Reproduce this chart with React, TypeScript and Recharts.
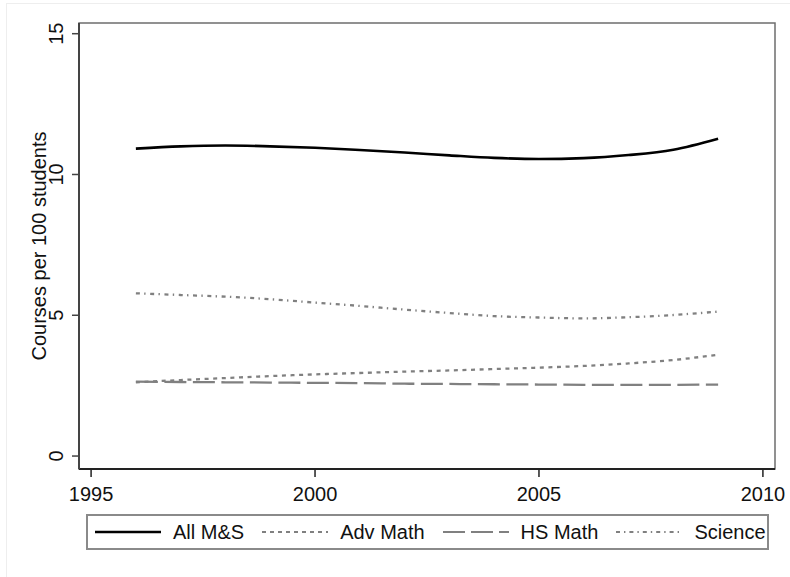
import React from 'react';
import { LineChart, Line, XAxis, YAxis, ReferenceArea, Label } from 'recharts';

const years = [1996, 1997, 1998, 1999, 2000, 2001, 2002, 2003, 2004, 2005, 2006, 2007, 2008, 2009];
const allMS = [10.92, 11.0, 11.03, 11.0, 10.95, 10.87, 10.78, 10.68, 10.59, 10.55, 10.58, 10.69, 10.88, 11.27];
const advMath = [2.62, 2.7, 2.77, 2.84, 2.9, 2.95, 3.0, 3.04, 3.09, 3.14, 3.2, 3.29, 3.41, 3.6];
const hsMath = [2.64, 2.63, 2.62, 2.61, 2.6, 2.59, 2.57, 2.56, 2.55, 2.54, 2.53, 2.53, 2.53, 2.54];
const science = [5.78, 5.72, 5.66, 5.57, 5.45, 5.33, 5.2, 5.08, 4.97, 4.92, 4.89, 4.93, 5.01, 5.13];

const xTicks = [1995, 2000, 2005, 2010];
const yTicks = [0, 5, 10, 15];

const data = years.map((year, i) => ({
  year,
  allMS: allMS[i],
  advMath: advMath[i],
  hsMath: hsMath[i],
  science: science[i],
}));

const FONT = '"Liberation Sans", Arial, Helvetica, sans-serif';
const FS = 20;
const X_DOMAIN: [number, number] = [1994.73, 2010.27];
const Y_DOMAIN: [number, number] = [-0.46, 15.38];

const series = [
  { key: 'allMS', name: 'All M&S', color: '#000000', dash: undefined, legendDash: undefined },
  { key: 'advMath', name: 'Adv Math', color: '#808080', dash: '4 4.6', legendDash: '4 4' },
  { key: 'hsMath', name: 'HS Math', color: '#808080', dash: '22 6.5', legendDash: '22 6' },
  { key: 'science', name: 'Science', color: '#808080', dash: '4 4.3 1.4 4.6', legendDash: '4 4 1.4 4' },
];

const YTick = (props: any) => {
  const { x, y, payload } = props;
  const bx = x - 7;
  return (
    <text
      x={bx}
      y={y}
      transform={`rotate(-90 ${bx} ${y})`}
      textAnchor="middle"
      fontSize={FS}
      fontFamily={FONT}
      fill="#111"
    >
      {payload.value}
    </text>
  );
};

const YTitle = (props: any) => {
  const { viewBox } = props;
  const cx = viewBox.x + 46;
  const cy = viewBox.y + viewBox.height / 2;
  return (
    <text
      x={cx}
      y={cy}
      transform={`rotate(-90 ${cx} ${cy})`}
      textAnchor="middle"
      fontSize={FS}
      fontFamily={FONT}
      fill="#111"
    >
      Courses per 100 students
    </text>
  );
};

const LegendBox = () => (
  <div
    style={{
      position: 'absolute',
      left: 86,
      top: 514,
      width: 683,
      height: 36,
      boxSizing: 'border-box',
      border: '2px solid #8a8a8a',
      display: 'flex',
      alignItems: 'center',
      paddingLeft: 7,
      fontFamily: FONT,
      fontSize: FS,
      color: '#111',
      whiteSpace: 'nowrap',
      overflow: 'visible',
    }}
  >
    {series.map((s) => (
      <div key={s.key} style={{ display: 'flex', alignItems: 'center', marginRight: 18, flexShrink: 0 }}>
        <svg width={66} height={6} style={{ marginRight: 12, flexShrink: 0 }}>
          <line
            x1={0}
            y1={3}
            x2={66}
            y2={3}
            stroke={s.color}
            strokeWidth={s.key === 'allMS' ? 2.5 : 2.2}
            strokeDasharray={s.legendDash}
          />
        </svg>
        <span>{s.name}</span>
      </div>
    ))}
  </div>
);

export default function App() {
  return (
    <div style={{ position: 'absolute', left: 0, top: 0, width: 790, height: 577, background: '#fff' }}>
      <div
        style={{
          position: 'absolute',
          left: 6,
          top: 3,
          width: 784,
          height: 574,
          borderLeft: '1px solid #eeeeee',
          borderTop: '1px solid #eeeeee',
        }}
      />
      <LineChart
        width={790}
        height={577}
        data={data}
        margin={{ top: 23, right: 15, bottom: 68, left: 0 }}
        style={{ position: 'absolute', left: 0, top: 0 }}
      >
        <ReferenceArea
          x1={X_DOMAIN[0]}
          x2={X_DOMAIN[1]}
          y1={Y_DOMAIN[0]}
          y2={Y_DOMAIN[1]}
          fill="none"
          stroke="#6e6e6e"
          strokeWidth={1.5}
          fillOpacity={0}
          ifOverflow="visible"
        />
        <XAxis
          dataKey="year"
          type="number"
          domain={X_DOMAIN}
          allowDataOverflow
          ticks={xTicks}
          height={40}
          tickSize={8}
          tickMargin={10}
          axisLine={{ stroke: '#222', strokeWidth: 2 }}
          tickLine={{ stroke: '#222', strokeWidth: 1.5 }}
          tick={{ fontSize: FS, fontFamily: FONT, fill: '#111' }}
        />
        <YAxis
          type="number"
          domain={Y_DOMAIN}
          allowDataOverflow
          ticks={yTicks}
          width={79}
          tickSize={7}
          tickMargin={2}
          axisLine={{ stroke: '#444', strokeWidth: 2 }}
          tickLine={{ stroke: '#444', strokeWidth: 1.5 }}
          tick={<YTick />}
        >
          <Label content={<YTitle />} />
        </YAxis>
        {series.map((s) => (
          <Line
            key={s.key}
            type="monotone"
            dataKey={s.key}
            name={s.name}
            stroke={s.color}
            strokeWidth={s.key === 'allMS' ? 2.6 : 2.3}
            strokeDasharray={s.dash}
            dot={false}
            activeDot={false}
            isAnimationActive={false}
          />
        ))}
      </LineChart>
      <LegendBox />
    </div>
  );
}
